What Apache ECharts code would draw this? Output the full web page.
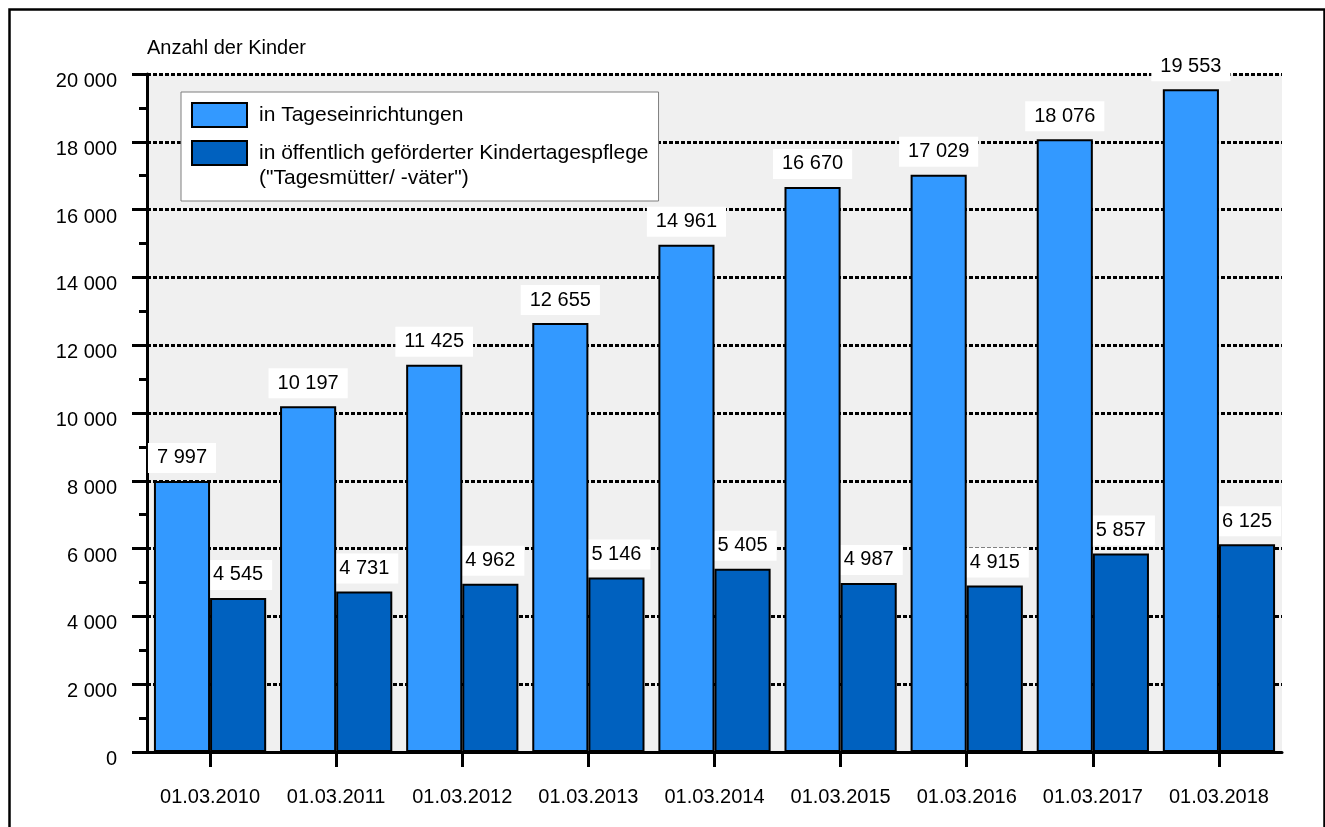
<!DOCTYPE html>
<html>
<head>
<meta charset="utf-8">
<script src="https://cdn.jsdelivr.net/npm/echarts@6/dist/echarts.min.js"></script>
<style>
  html, body { margin: 0; padding: 0; background: #fff; }
  #chart { width: 1325px; height: 827px; }
</style>
</head>
<body>
<div id="chart"></div>
<script>
// Stichtage
const categories = ['01.03.2010', '01.03.2011', '01.03.2012', '01.03.2013', '01.03.2014',
                    '01.03.2015', '01.03.2016', '01.03.2017', '01.03.2018'];
// Kinder in Tageseinrichtungen
const tageseinrichtungen = [7997, 10197, 11425, 12655, 14961, 16670, 17029, 18076, 19553];
// Kinder in öffentlich geförderter Kindertagespflege
const kindertagespflege = [4545, 4731, 4962, 5146, 5405, 4987, 4915, 5857, 6125];

const seriesNames = ['in Tageseinrichtungen', 'in öffentlich geförderter Kindertagespflege'];
const seriesNote = '("Tagesmütter/ -väter")';
const axisTitle = 'Anzahl der Kinder';

const FONT = "'Liberation Sans', Arial, sans-serif";
const SIZE = 20;

// Zahlen mit Leerzeichen als Tausendertrennzeichen
function fmt(v) {
  return String(v).replace(/\B(?=(\d{3})+(?!\d))/g, ' ');
}

const valueLabel = {
  show: true,
  position: 'top',
  distance: 8,
  formatter: p => fmt(p.value),
  fontFamily: FONT,
  fontSize: SIZE,
  color: '#000',
  backgroundColor: '#fff',
  padding: [5, 9, 5, 9],
  lineHeight: 20
};

const chart = echarts.init(document.getElementById('chart'), null, { renderer: 'canvas' });

chart.setOption({
  animation: false,
  backgroundColor: '#fff',
  textStyle: { fontFamily: FONT },
  title: {
    text: axisTitle,
    left: 147,
    top: 37,
    padding: 0,
    textStyle: { fontFamily: FONT, fontSize: SIZE, fontWeight: 'normal', color: '#000', lineHeight: 22 }
  },
  grid: {
    left: 147, right: 43, top: 74, bottom: 75,
    show: true,
    backgroundColor: '#f0f0f0',
    borderWidth: 0,
    containLabel: false
  },
  legend: {
    orient: 'vertical',
    left: 181,
    top: 92,
    padding: [10, 10, 35, 10],
    backgroundColor: '#fff',
    borderColor: '#7f7f7f',
    borderWidth: 1,
    itemWidth: 55,
    itemHeight: 24,
    itemGap: 12,
    icon: 'rect',
    selectedMode: false,
    itemStyle: { borderColor: '#000', borderWidth: 2 },
    textStyle: { fontFamily: FONT, fontSize: 21, color: '#000', padding: [0, 0, 0, 7] },
    data: seriesNames
  },
  graphic: [
    {
      type: 'text',
      left: 259,
      top: 168,
      z: 100,
      style: { text: seriesNote, fontFamily: FONT, fontSize: 21, fill: '#000' }
    },
    {
      type: 'rect',
      left: 7, top: 7,
      shape: { x: 0, y: 0, width: 1315, height: 840 },
      style: { fill: 'none', stroke: '#000', lineWidth: 2.5 },
      silent: true
    }
  ],
  xAxis: {
    type: 'category',
    data: categories,
    boundaryGap: true,
    axisLine: { show: true, onZero: false, lineStyle: { color: '#000', width: 3 } },
    axisTick: { show: true, alignWithLabel: true, length: 15, lineStyle: { color: '#000', width: 3 } },
    axisLabel: { fontFamily: FONT, fontSize: SIZE, color: '#000', margin: 34, lineHeight: 22, interval: 0 },
    splitLine: { show: false }
  },
  yAxis: {
    type: 'value',
    min: 0,
    max: 20000,
    interval: 2000,
    axisLine: { show: true, lineStyle: { color: '#000', width: 3 } },
    axisTick: { show: true, length: 15, lineStyle: { color: '#000', width: 3 } },
    minorTick: { show: true, splitNumber: 2, length: 8, lineStyle: { color: '#000', width: 3 } },
    axisLabel: {
      fontFamily: FONT, fontSize: SIZE, color: '#000', margin: 30,
      verticalAlign: 'top',
      lineHeight: 15,
      formatter: v => fmt(v)
    },
    splitLine: { show: true, lineStyle: { color: '#000', width: 3, type: [4, 2] } }
  },
  series: [
    {
      name: seriesNames[0],
      type: 'bar',
      data: tageseinrichtungen,
      barGap: '0%',
      barCategoryGap: '11%',
      z: 3,
      itemStyle: { color: '#3399ff', borderColor: '#000', borderWidth: 2 },
      label: valueLabel
    },
    {
      name: seriesNames[1],
      type: 'bar',
      data: kindertagespflege,
      barGap: '0%',
      barCategoryGap: '11%',
      z: 2,
      itemStyle: { color: '#0061bf', borderColor: '#000', borderWidth: 2 },
      label: valueLabel
    }
  ]
});
</script>
</body>
</html>
